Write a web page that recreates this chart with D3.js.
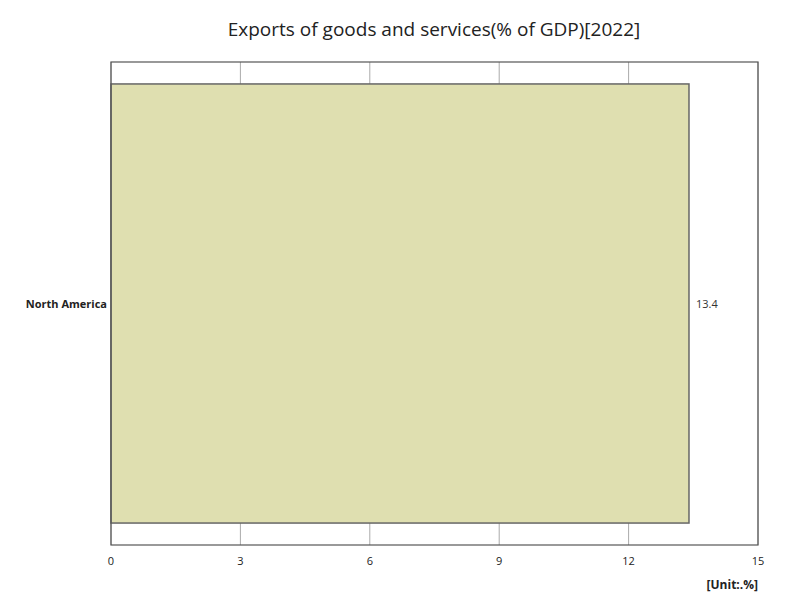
<!DOCTYPE html>
<html><head><meta charset="utf-8">
<script src="https://cdn.jsdelivr.net/npm/d3@7"></script>
<style>body{margin:0;background:#fff;font-family:"Open Sans",sans-serif;}</style>
</head><body>
<script>
// data
var categories = ["North America"];
var values = [13.4];
var ticks = [0, 3, 6, 9, 12, 15];

var width = 800, height = 600;
var margin = {left: 111, right: 42, top: 62, bottom: 55};

var svg = d3.select("body").append("svg")
    .attr("width", width).attr("height", height);

var x = d3.scaleLinear().domain([0, 15]).range([margin.left, width - margin.right]);
var y = d3.scaleBand().domain(categories)
    .range([margin.top, height - margin.bottom]).paddingInner(0).paddingOuter(0.05);

svg.append("text").attr("x", 434).attr("y", 36)
    .attr("text-anchor", "middle").style("font-size", "19px").style("fill", "#222")
    .text("Exports of goods and services(% of GDP)[2022]");

// grid
svg.selectAll("line.grid").data(ticks).enter().append("line")
    .attr("x1", d => x(d)).attr("x2", d => x(d))
    .attr("y1", margin.top).attr("y2", height - margin.bottom)
    .attr("stroke", "#aaa").attr("stroke-width", 1);

// bars
svg.selectAll("rect.bar").data(values).enter().append("rect")
    .attr("x", x(0)).attr("y", (d, i) => y(categories[i]))
    .attr("width", d => x(d) - x(0)).attr("height", y.bandwidth())
    .attr("fill", "#dfdfb0").attr("stroke", "#666").attr("stroke-width", 1.5);

svg.selectAll("text.val").data(values).enter().append("text")
    .attr("x", d => x(d) + 7).attr("y", (d, i) => y(categories[i]) + y.bandwidth() / 2 + 4)
    .style("font-size", "11px").style("fill", "#333").text(d => d);

// frame
svg.append("rect").attr("x", margin.left).attr("y", margin.top)
    .attr("width", x(15) - x(0)).attr("height", height - margin.bottom - margin.top)
    .attr("fill", "none").attr("stroke", "#555").attr("stroke-width", 1.2);

svg.selectAll("text.cat").data(categories).enter().append("text")
    .attr("x", margin.left - 4).attr("y", d => y(d) + y.bandwidth() / 2 + 4)
    .attr("text-anchor", "end").style("font-size", "11px").style("font-weight", "bold")
    .style("fill", "#222").text(d => d);

svg.selectAll("text.tick").data(ticks).enter().append("text")
    .attr("x", d => x(d)).attr("y", height - margin.bottom + 20)
    .attr("text-anchor", "middle").style("font-size", "11px").style("fill", "#222").text(d => d);

svg.append("text").attr("x", width - margin.right).attr("y", 589)
    .attr("text-anchor", "end").style("font-size", "12px").style("font-weight", "bold")
    .style("fill", "#222").text("[Unit:.%]");
</script>
</body></html>
